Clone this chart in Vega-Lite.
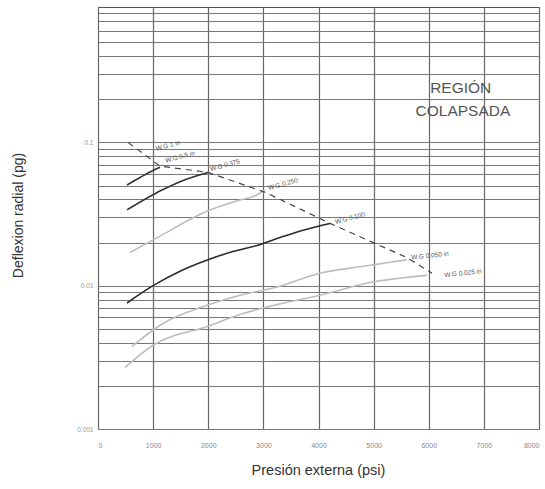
{
  "$schema": "https://vega.github.io/schema/vega-lite/v6.json",
  "width": 441,
  "height": 422,
  "autosize": {"type": "none"},
  "padding": {"left": 98, "top": 7, "right": 6, "bottom": 60},
  "background": "white",
  "config": {
    "font": "Liberation Sans",
    "view": {"stroke": "#555", "strokeWidth": 1}
  },
  "datasets": {
    "curves": [
      {"s": "A", "x": 526, "y": 0.0504}, {"s": "A", "x": 762, "y": 0.0568}, {"s": "A", "x": 998, "y": 0.0637}, {"s": "A", "x": 1125, "y": 0.067},
      {"s": "B", "x": 526, "y": 0.0338}, {"s": "B", "x": 1161, "y": 0.0465}, {"s": "B", "x": 1578, "y": 0.0549}, {"s": "B", "x": 1995, "y": 0.0617},
      {"s": "C", "x": 580, "y": 0.01706}, {"s": "C", "x": 1034, "y": 0.0212}, {"s": "C", "x": 1995, "y": 0.0333}, {"s": "C", "x": 2485, "y": 0.0387}, {"s": "C", "x": 2902, "y": 0.0434}, {"s": "C", "x": 3029, "y": 0.0465},
      {"s": "D", "x": 526, "y": 0.00757}, {"s": "D", "x": 998, "y": 0.01}, {"s": "D", "x": 1488, "y": 0.01262}, {"s": "D", "x": 1995, "y": 0.01517}, {"s": "D", "x": 2449, "y": 0.01733}, {"s": "D", "x": 2902, "y": 0.01918}, {"s": "D", "x": 3338, "y": 0.02193}, {"s": "D", "x": 3755, "y": 0.0246}, {"s": "D", "x": 4209, "y": 0.0272},
      {"s": "E", "x": 617, "y": 0.00377}, {"s": "E", "x": 1161, "y": 0.0054}, {"s": "E", "x": 1995, "y": 0.00734}, {"s": "E", "x": 2576, "y": 0.00857}, {"s": "E", "x": 3211, "y": 0.0097}, {"s": "E", "x": 4027, "y": 0.01222}, {"s": "E", "x": 4844, "y": 0.01373}, {"s": "E", "x": 5605, "y": 0.01517},
      {"s": "F", "x": 490, "y": 0.00269}, {"s": "F", "x": 998, "y": 0.00384}, {"s": "F", "x": 1995, "y": 0.00522}, {"s": "F", "x": 2576, "y": 0.0063}, {"s": "F", "x": 3211, "y": 0.00734}, {"s": "F", "x": 4027, "y": 0.00857}, {"s": "F", "x": 4934, "y": 0.01052}, {"s": "F", "x": 5968, "y": 0.0118}
    ],
    "boundary": [
      {"x": 544, "y": 0.1}, {"x": 853, "y": 0.0818}, {"x": 1125, "y": 0.0682}, {"x": 1578, "y": 0.0648}, {"x": 1995, "y": 0.0617},
      {"x": 3029, "y": 0.0449}, {"x": 4209, "y": 0.0272}, {"x": 5605, "y": 0.0157}, {"x": 6059, "y": 0.01222}
    ],
    "labelsTilted": [
      {"x": 1270, "y": 0.095, "label": "W.G 1 in"},
      {"x": 1488, "y": 0.0792, "label": "W.G 0.5 in"},
      {"x": 2304, "y": 0.0693, "label": "W.G 0.375"},
      {"x": 3356, "y": 0.0512, "label": "W.G 0.250"},
      {"x": 4571, "y": 0.0296, "label": "W.G 0.100"}
    ],
    "labelsFlat": [
      {"x": 6023, "y": 0.0162, "label": "W.G 0.050 in"},
      {"x": 6621, "y": 0.01222, "label": "W.G 0.025 in"}
    ],
    "region": [
      {"x": 6580, "y": 0.238, "label": "REGIÓN"},
      {"x": 6620, "y": 0.165, "label": "COLAPSADA"}
    ]
  },
  "encoding": {
    "x": {
      "field": "x", "type": "quantitative",
      "scale": {"domain": [0, 8000], "nice": false, "zero": false},
      "axis": {
        "values": [0, 1000, 2000, 3000, 4000, 5000, 6000, 7000, 8000],
        "format": "d",
        "grid": true, "gridColor": "#666", "gridWidth": 1.2,
        "ticks": false, "domain": false,
        "labelFontSize": 7, "labelColor": "#888", "labelPadding": 12,
        "title": "Presión externa (psi)",
        "titleFontSize": 14.5, "titleFontWeight": "normal", "titleColor": "#333",
        "titleX": 220, "titleY": 41, "titleBaseline": "middle", "titleAlign": "center"
      }
    },
    "y": {
      "field": "y", "type": "quantitative",
      "scale": {"type": "log", "domain": [0.001, 0.88], "nice": false},
      "axis": {
        "values": [0.001, 0.002, 0.003, 0.004, 0.005, 0.006, 0.007, 0.008, 0.009, 0.01, 0.02, 0.03, 0.04, 0.05, 0.06, 0.07, 0.08, 0.09, 0.1, 0.2, 0.3, 0.4, 0.5, 0.6, 0.7, 0.8],
        "labelExpr": "datum.value == 0.001 || datum.value == 0.01 || datum.value == 0.1 ? format(datum.value, '~g') : ''",
        "grid": true, "gridColor": "#777", "gridWidth": 1,
        "ticks": false, "domain": false,
        "labelFontSize": 6.5, "labelColor": "#999", "labelPadding": 5,
        "title": "Deflexion radial (pg)",
        "titleFontSize": 14, "titleFontWeight": "normal", "titleColor": "#333",
        "titleX": -80, "titleY": 208, "titleBaseline": "middle", "titleAlign": "center"
      }
    }
  },
  "layer": [
    {
      "data": {"name": "curves"},
      "mark": {"type": "line", "strokeWidth": 1.6, "interpolate": "monotone"},
      "encoding": {
        "detail": {"field": "s"},
        "color": {
          "field": "s", "type": "nominal",
          "scale": {"domain": ["A", "B", "C", "D", "E", "F"], "range": ["#333", "#333", "#bdbdbd", "#2a2a2a", "#bdbdbd", "#bdbdbd"]},
          "legend": null
        }
      }
    },
    {
      "data": {"name": "boundary"},
      "mark": {"type": "line", "strokeWidth": 1.2, "strokeDash": [6, 5], "color": "#444"},
      "encoding": {}
    },
    {
      "data": {"name": "labelsTilted"},
      "mark": {"type": "text", "fontSize": 6.5, "color": "#555", "angle": -15},
      "encoding": {"text": {"field": "label"}}
    },
    {
      "data": {"name": "labelsFlat"},
      "mark": {"type": "text", "fontSize": 6.5, "color": "#555", "angle": -6},
      "encoding": {"text": {"field": "label"}}
    },
    {
      "data": {"name": "region"},
      "mark": {"type": "text", "fontSize": 15.5, "color": "#555"},
      "encoding": {"text": {"field": "label"}}
    }
  ]
}
